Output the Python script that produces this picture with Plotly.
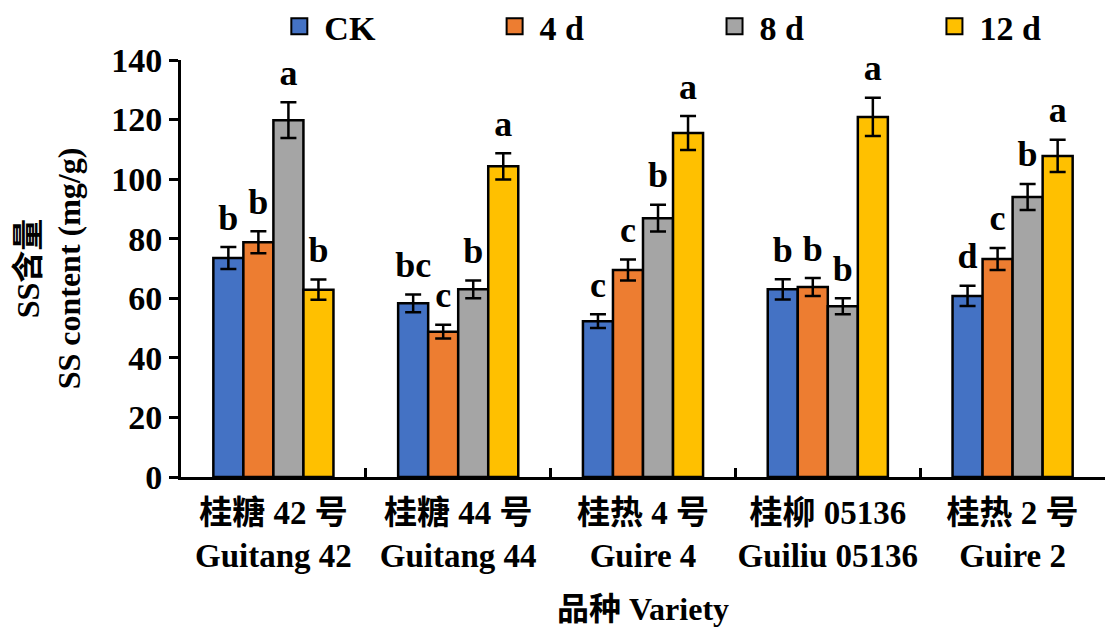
import plotly.graph_objects as go

varieties = ["桂糖 42 号<br>Guitang 42", "桂糖 44 号<br>Guitang 44", "桂热 4 号<br>Guire 4",
             "桂柳 05136<br>Guiliu 05136", "桂热 2 号<br>Guire 2"]
series = ["CK", "4 d", "8 d", "12 d"]
colours = ["#4472C4", "#ED7D31", "#A5A5A5", "#FFC000"]

ck = [73.5, 58.3, 52.3, 63.0, 60.8]
d4 = [78.8, 48.8, 69.5, 63.8, 73.2]
d8 = [119.8, 63.0, 86.9, 57.3, 94.0]
d12 = [62.9, 104.3, 115.5, 120.9, 107.8]

ck_err = [3.7, 3.0, 2.3, 3.4, 3.4]
d4_err = [3.7, 2.3, 3.5, 3.0, 3.7]
d8_err = [6.0, 3.0, 4.5, 2.7, 4.4]
d12_err = [3.4, 4.4, 5.7, 6.4, 5.4]

ck_sig = ["b", "bc", "c", "b", "d"]
d4_sig = ["b", "c", "c", "b", "c"]
d8_sig = ["a", "b", "b", "b", "b"]
d12_sig = ["b", "a", "a", "a", "a"]

values = [ck, d4, d8, d12]
errors = [ck_err, d4_err, d8_err, d12_err]
letters = [ck_sig, d4_sig, d8_sig, d12_sig]

legend_x = [0.101, 0.334, 0.572, 0.810]
legend_ids = ["legend", "legend2", "legend3", "legend4"]

serif = "Liberation Serif, Noto Sans CJK SC"

fig = go.Figure()
for name, col, v, e in zip(series, colours, values, errors):
    fig.add_trace(go.Bar(
        x=varieties, y=v, name=name, showlegend=False,
        marker=dict(color=col, line=dict(color="black", width=2.5)),
        error_y=dict(type="data", array=e, color="black", thickness=2.5, width=8),
    ))

for v, e, t in zip(values, errors, letters):
    fig.add_trace(go.Scatter(
        x=varieties, y=[a + b for a, b in zip(v, e)], text=t,
        mode="markers+text", textposition="top center", showlegend=False, cliponaxis=False,
        marker=dict(size=12, color="rgba(0,0,0,0)"),
        textfont=dict(family=serif, size=36, color="black", weight="bold"),
        hoverinfo="skip",
    ))

# legend entries on a hidden second axis pair, one legend per series
for name, col, lid in zip(series, colours, legend_ids):
    fig.add_trace(go.Scatter(
        x=[None], y=[None], name=name, mode="markers", legend=lid,
        xaxis="x2", yaxis="y2",
        marker=dict(symbol="square", size=22, color=col, line=dict(color="black", width=2)),
    ))

legend_style = dict(orientation="h", xanchor="left", y=1.08, yanchor="middle",
                    font=dict(size=34, weight="bold"), itemsizing="trace", itemwidth=40,
                    bgcolor="rgba(0,0,0,0)")

fig.update_layout(
    width=1113, height=644,
    barmode="group", bargap=0.35, bargroupgap=0,
    scattermode="group", scattergap=0.35,
    plot_bgcolor="white", paper_bgcolor="white",
    margin=dict(l=173, r=16, t=52, b=175, autoexpand=False),
    font=dict(family=serif, size=32, color="black", weight="bold"),
    xaxis=dict(
        automargin=False, tickangle=0, ticklabelstandoff=4,
        showline=True, linecolor="black", linewidth=3,
        ticks="inside", tickson="boundaries", ticklen=9, tickwidth=2.5, tickcolor="black",
        tickfont=dict(size=33, weight="bold"),
        title=dict(text="品种 Variety", font=dict(size=32, weight="bold"), standoff=26),
    ),
    yaxis=dict(
        range=[0, 140], dtick=20, automargin=False,
        showline=True, linecolor="black", linewidth=3, showgrid=False, zeroline=False,
        ticks="outside", ticklen=9, tickwidth=2.5, tickcolor="black",
        tickfont=dict(size=34, weight="bold"),
        title=dict(text="SS含量<br>SS content (mg/g)", font=dict(size=32, weight="bold"), standoff=21),
    ),
    xaxis2=dict(overlaying="x", visible=False),
    yaxis2=dict(overlaying="y", visible=False),
)
for lid, lx in zip(legend_ids, legend_x):
    fig.update_layout({lid: dict(legend_style, x=lx)})

fig.write_html("out.html")
